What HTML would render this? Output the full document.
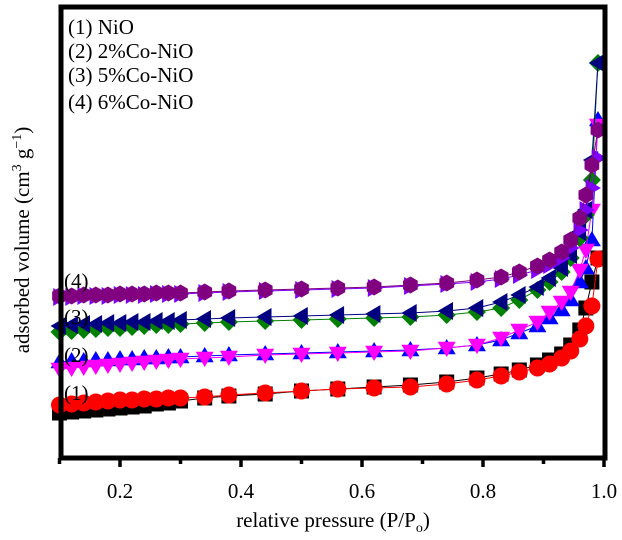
<!DOCTYPE html>
<html><head><meta charset="utf-8"><style>
html,body{margin:0;padding:0;background:#fff;}
svg{display:block;font-family:"Liberation Serif",serif;}
</style></head><body>
<svg id="chart" width="622" height="540">
<rect x="0" y="0" width="622" height="540" fill="#fff"/>
<g id="marks"></g>
<rect x="61" y="7" width="544" height="451" fill="none" stroke="#000" stroke-width="5"/>
<g id="xticks"></g>
<text x="333" y="527" font-size="21" text-anchor="middle">relative pressure (P/P<tspan font-size="14" dy="5">o</tspan><tspan dy="-5">)</tspan></text>
<text transform="translate(29,240) rotate(-90)" font-size="21" text-anchor="middle">adsorbed volume (cm<tspan font-size="14" dy="-8">3</tspan><tspan dy="8"> g</tspan><tspan font-size="14" dy="-8">−1</tspan><tspan dy="8">)</tspan></text>
<g font-size="21">
<text x="68" y="34">(1) NiO</text>
<text x="68" y="58">(2) 2%Co-NiO</text>
<text x="68" y="82">(3) 5%Co-NiO</text>
<text x="68" y="109">(4) 6%Co-NiO</text>
</g>
<g font-size="21">
<text x="64" y="400">(1)</text>
<text x="64" y="362">(2)</text>
<text x="64" y="324">(3)</text>
<text x="64" y="288">(4)</text>
</g>
</svg>
<script>
const xVals = [0.10,0.12,0.14,0.16,0.18,0.20,0.22,0.24,0.26,0.28,0.30,0.34,0.38,0.44,0.50,0.56,0.62,0.68,0.74,0.79,0.83,0.86,0.89,0.91,0.93,0.945,0.96,0.97,0.98,0.99];
const sBlack = [45,46,47,48,49,50,51,52,54,55,57,60,62,64,67,69,71,73,76,80,84,88,93,98,104,113,128,150,176,200];
const sRed = [53,54,55,56,57,58,58,59,59,60,60,61,63,65,67,69,70,71,74,78,82,86,90,94,100,107,119,132,152,199];
const sBlue = [96,97,97,98,98,99,99,100,100,101,101,102,103,104,105,106,107,108,110,113,118,125,132,140,148,158,176,190,218,338];
const sMagenta = [89,90,91,92,93,94,95,96,97,98,99,100,101,103,104,105,106,107,110,113,120,128,136,146,156,166,188,208,248,333];
const sGreen = [126,127,128,129,130,130,131,132,133,133,134,135,136,137,138,139,140,141,143,146,150,158,168,176,186,200,220,243,278,395];
const sNavy = [132,133,134,134,135,135,136,136,137,137,138,139,140,141,142,143,144,145,147,150,156,163,171,180,190,203,226,248,298,395];
const sViolet = [161,161,162,162,162,163,163,163,164,164,164,165,166,167,168,169,170,172,174,176,179,183,188,193,200,210,228,248,270,300];
const sPurple = [162,162,163,163,163,164,164,164,165,165,165,166,167,168,169,170,171,173,175,178,181,186,192,198,206,218,240,263,293,328];
const xTicks = [0.2,0.4,0.6,0.8,1.0];
const xTickLabels = ["0.2","0.4","0.6","0.8","1.0"];
const xMinor = [0.1,0.3,0.5,0.7,0.9];

const NS="http://www.w3.org/2000/svg";
function xs(v){return 120+(v-0.2)*605;}
function ys(v){return 458-v;}
function mk(tag,attrs,parent){const e=document.createElementNS(NS,tag);for(const k in attrs)e.setAttribute(k,attrs[k]);parent.appendChild(e);return e;}
const marks=document.getElementById('marks');
const series=[
 {d:sBlack,c:'#000',m:'square',n:'nio-desorption'},
 {d:sRed,c:'#ff0000',m:'circle',n:'nio-adsorption'},
 {d:sBlue,c:'#0000ff',m:'up',n:'co2-adsorption'},
 {d:sMagenta,c:'#ff00ff',m:'down',n:'co2-desorption'},
 {d:sGreen,c:'#008000',m:'diamond',n:'co5-adsorption'},
 {d:sNavy,c:'#000080',m:'left',n:'co5-desorption'},
 {d:sViolet,c:'#8000ff',m:'right',n:'co6-desorption'},
 {d:sPurple,c:'#800080',m:'hex',n:'co6-adsorption'}
];
function shape(m,x,y,c,g){
 const r=9;let p;
 if(m==='circle')return mk('circle',{cx:x,cy:y,r:8.5,fill:c},g);
 if(m==='square')return mk('rect',{x:x-7.5,y:y-7.5,width:15,height:15,fill:c},g);
 if(m==='up')p=[[x,y-r],[x+r,y+r*0.7],[x-r,y+r*0.7]];
 else if(m==='down')p=[[x,y+r],[x+r,y-r*0.7],[x-r,y-r*0.7]];
 else if(m==='left')p=[[x-r,y],[x+r*0.7,y-r],[x+r*0.7,y+r]];
 else if(m==='right')p=[[x+r,y],[x-r*0.7,y-r],[x-r*0.7,y+r]];
 else if(m==='diamond')p=[[x,y-r],[x+r,y],[x,y+r],[x-r,y]];
 else {p=[];for(let i=0;i<6;i++){const a=Math.PI/6+i*Math.PI/3;p.push([x+8.5*Math.cos(a),y+8.5*Math.sin(a)]);}}
 return mk('polygon',{points:p.map(q=>q.join(',')).join(' '),fill:c},g);
}
series.forEach(s=>{
 const g=mk('g',{},marks);
 
 
 const pts=xVals.map((x,i)=>xs(x)+','+ys(s.d[i])).join(' ');
 const l=mk('polyline',{points:pts,fill:'none',stroke:s.c,'stroke-width':1},g);
 
 
 xVals.forEach((x,i)=>{
  const e=shape(s.m,xs(x),ys(s.d[i]),s.c,g);
  
  
 });
});
const xt=document.getElementById('xticks');
xTicks.forEach((t,i)=>{
 const l=mk('line',{x1:xs(t),x2:xs(t),y1:458,y2:467,stroke:'#000','stroke-width':3.5},xt);
 
 
 const tx=mk('text',{x:xs(t),y:498,'font-size':21,'text-anchor':'middle'},xt);
 tx.textContent=xTickLabels[i];
 
 
});
xMinor.forEach(t=>{
 const l=mk('line',{x1:xs(t),x2:xs(t),y1:458,y2:464,stroke:'#000','stroke-width':3.5},xt);
 
 
});
</script>
</body></html>
